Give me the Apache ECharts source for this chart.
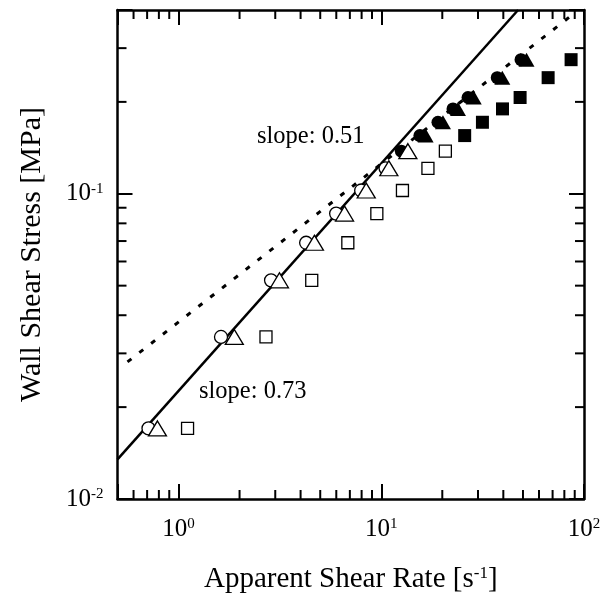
<!DOCTYPE html>
<html><head><meta charset="utf-8">
<script src="https://cdn.jsdelivr.net/npm/echarts@6/dist/echarts.min.js"></script>
<style>html,body{margin:0;padding:0;background:#fff}#c{width:603px;height:596px}</style>
</head><body><div id="c"></div>
<script>
// ---- data ----
const xRange = [0.5, 100];
const yRange = [0.01, 0.4];
const xMinorTicks = [0.6, 0.7, 0.8, 0.9, 2, 3, 4, 5, 6, 7, 8, 9, 20, 30, 40, 50, 60, 70, 80, 90];
const yMinorTicks = [0.02, 0.03, 0.04, 0.05, 0.06, 0.07, 0.08, 0.09, 0.2, 0.3];

const openCircleX = [0.711, 1.62, 2.86, 4.26, 5.99, 7.96, 10.5];
const openCircleY = [0.01703, 0.03396, 0.05204, 0.0691, 0.0861, 0.1025, 0.1212];
const openTriangleX = [0.787, 1.884, 3.146, 4.68, 6.59, 8.43, 10.9, 13.53];
const openTriangleY = [0.01703, 0.03396, 0.05204, 0.0691, 0.0861, 0.1025, 0.1212, 0.1379];
const openSquareX = [1.108, 2.70, 4.54, 6.84, 9.51, 12.72, 16.99, 20.71];
const openSquareY = [0.01703, 0.03396, 0.05204, 0.0691, 0.0861, 0.1025, 0.1212, 0.1379];
const filledCircleX = [12.56, 15.51, 19.04, 22.58, 26.79, 37.33, 48.9];
const filledCircleY = [0.1379, 0.1551, 0.1715, 0.1897, 0.2067, 0.2401, 0.2750];
const filledTriangleX = [16.55, 20.15, 23.9, 28.58, 39.54, 52.05];
const filledTriangleY = [0.1551, 0.1715, 0.1897, 0.2067, 0.2401, 0.2750];
const filledSquareX = [25.79, 31.55, 39.63, 48.4, 66.54, 86.36];
const filledSquareY = [0.1551, 0.1715, 0.1897, 0.2067, 0.2401, 0.2750];
const fitSolidX = [0.5, 47.3];
const fitSolidY = [0.01349, 0.4];
const fitDottedX = [0.56, 90.2];
const fitDottedY = [0.02813, 0.3917];

const xTitle = 'Apparent Shear Rate [s{sup|-1}]';
const yTitle = 'Wall Shear Stress [MPa]';
const slopeLabels = ['slope: 0.51', 'slope: 0.73'];

// ---- chart ----
const serif = '"Liberation Serif", "Times New Roman", serif';
const zip = (a, b) => a.map((v, i) => [v, b[i]]);
function powLabel(v) {
  const e = Math.log10(v), r = Math.round(e);
  if (Math.abs(e - r) > 1e-6) return '';
  return '10{sup|' + r + '}';
}
const supRich = { sup: { fontSize: 15, fontFamily: serif, color: '#000', verticalAlign: 'top', lineHeight: 16 } };
const lineStyle = { color: '#000', width: 2.5 };

function mkAxis(pos, isX, showLabel) {
  return {
    type: 'log', logBase: 10, position: pos,
    min: isX ? xRange[0] : yRange[0], max: isX ? xRange[1] : yRange[1],
    axisLine: { show: true, onZero: false, lineStyle: lineStyle },
    axisTick: { show: true, inside: true, length: 15, lineStyle: { color: '#000', width: 2 } },
    minorTick: { show: false }, splitLine: { show: false }, minorSplitLine: { show: false },
    axisLabel: {
      show: showLabel, formatter: powLabel, color: '#000', fontFamily: serif, fontSize: 25,
      margin: isX ? 18 : 14, rich: supRich, showMinLabel: true, showMaxLabel: true
    }
  };
}
const xA = mkAxis('bottom', true, true);
xA.name = xTitle; xA.nameLocation = 'middle'; xA.nameGap = 66;
xA.nameTextStyle = { color: '#000', fontFamily: serif, fontSize: 29, rich: { sup: { fontSize: 17, fontFamily: serif, color: '#000', verticalAlign: 'top', lineHeight: 18 } } };
const yA = mkAxis('left', false, true);
yA.name = yTitle; yA.nameLocation = 'middle'; yA.nameGap = 70;
yA.nameTextStyle = { color: '#000', fontFamily: serif, fontSize: 30 };

function minorSeries(vals, isX) {
  return {
    type: 'custom', coordinateSystem: 'cartesian2d', silent: true, clip: false, z: 5,
    data: vals.map(v => isX ? [v, yRange[0]] : [xRange[0], v]),
    renderItem: function (params, api) {
      const v = isX ? api.value(0) : api.value(1);
      const L = 9;
      const st = { stroke: '#000', lineWidth: 2 };
      if (isX) {
        const b = api.coord([v, yRange[0]]), t = api.coord([v, yRange[1]]);
        return { type: 'group', children: [
          { type: 'line', shape: { x1: b[0], y1: b[1], x2: b[0], y2: b[1] - L }, style: st },
          { type: 'line', shape: { x1: t[0], y1: t[1], x2: t[0], y2: t[1] + L }, style: st }
        ] };
      } else {
        const l = api.coord([xRange[0], v]), r = api.coord([xRange[1], v]);
        return { type: 'group', children: [
          { type: 'line', shape: { x1: l[0], y1: l[1], x2: l[0] + L, y2: l[1] }, style: st },
          { type: 'line', shape: { x1: r[0], y1: r[1], x2: r[0] - L, y2: r[1] }, style: st }
        ] };
      }
    }
  };
}

const openStyle = { color: '#fff', borderColor: '#000', borderWidth: 1.3, opacity: 1 };
const fillStyle = { color: '#000', borderColor: '#000', borderWidth: 0, opacity: 1 };
function sc(name, xs, ys, symbol, size, style, z) {
  return { name: name, type: 'scatter', data: zip(xs, ys), symbol: symbol, symbolSize: size,
    itemStyle: style, z: z, silent: true, animation: false };
}

const option = {
  backgroundColor: '#fff',
  animation: false,
  grid: { left: 117.5, right: 19, top: 10, bottom: 97, containLabel: false, outerBoundsMode: 'none' },
  xAxis: [xA, mkAxis('top', true, false)],
  yAxis: [yA, mkAxis('right', false, false)],
  series: [
    minorSeries(xMinorTicks, true),
    minorSeries(yMinorTicks, false),
    { type: 'line', data: zip(fitSolidX, fitSolidY), symbol: 'none', lineStyle: { color: '#000', width: 2.5 }, z: 2, silent: true },
    { type: 'line', data: zip(fitDottedX, fitDottedY), symbol: 'none', lineStyle: { color: '#000', width: 3, type: [5, 10] }, z: 2, silent: true },
    sc('oc', openCircleX, openCircleY, 'circle', 13, openStyle, 3),
    sc('ot', openTriangleX, openTriangleY, 'triangle', [18, 15], openStyle, 4),
    sc('os', openSquareX, openSquareY, 'rect', 12, openStyle, 3),
    sc('fc', filledCircleX, filledCircleY, 'circle', 13, fillStyle, 3),
    sc('ft', filledTriangleX, filledTriangleY, 'triangle', [16, 14], fillStyle, 4),
    sc('fs', filledSquareX, filledSquareY, 'rect', 13, fillStyle, 3)
  ],
  graphic: [
    { type: 'text', x: 257, y: 137, style: { text: slopeLabels[0], font: '24.5px ' + serif, fill: '#000', verticalAlign: 'middle' } },
    { type: 'text', x: 199, y: 392, style: { text: slopeLabels[1], font: '24.5px ' + serif, fill: '#000', verticalAlign: 'middle' } }
  ]
};
const chart = echarts.init(document.getElementById('c'), null, { renderer: 'canvas' });
chart.setOption(option);
</script></body></html>
